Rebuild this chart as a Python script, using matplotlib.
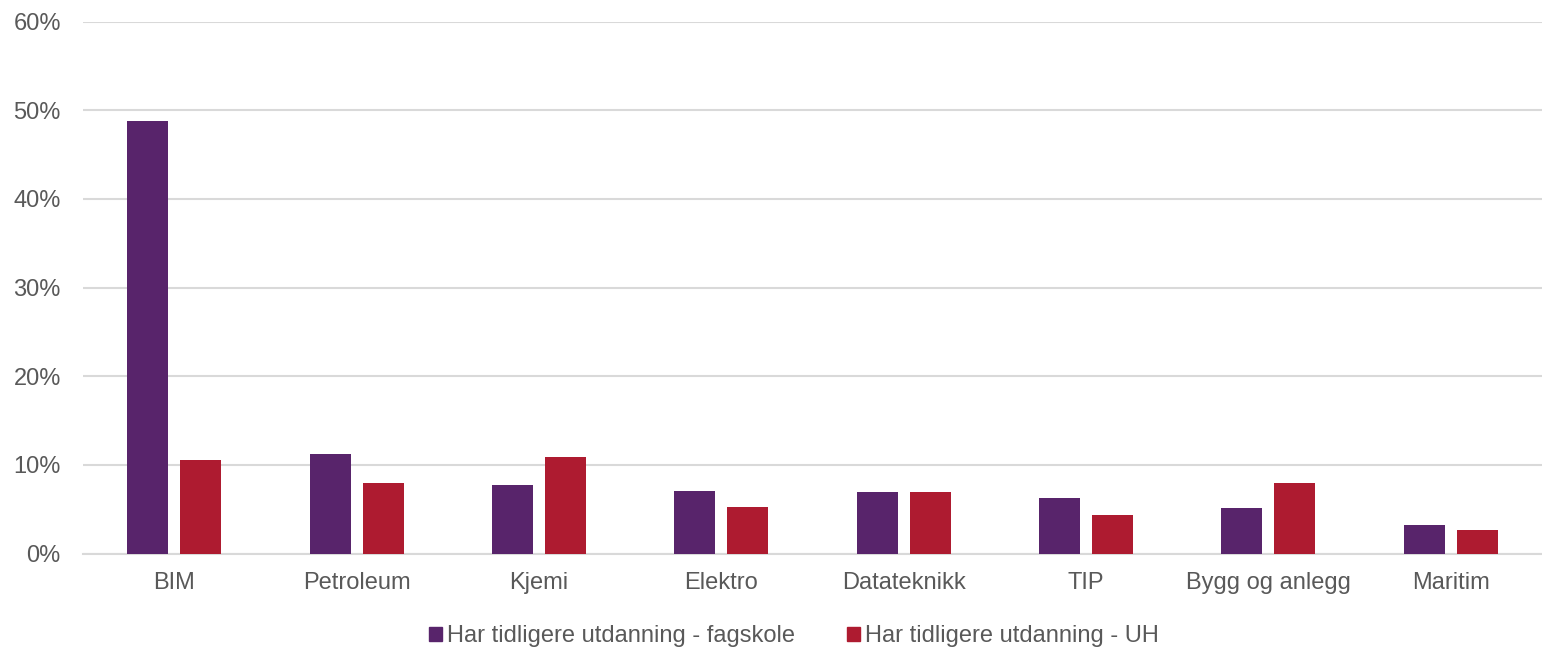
import matplotlib.pyplot as plt
import numpy as np
from matplotlib.ticker import PercentFormatter
from matplotlib.patches import Patch

plt.rcParams['font.family'] = ['Liberation Sans', 'DejaVu Sans']

categories = ['BIM', 'Petroleum', 'Kjemi', 'Elektro', 'Datateknikk', 'TIP',
              'Bygg og anlegg', 'Maritim']
fagskole = [48.8, 11.25, 7.7, 7.0, 6.9, 6.3, 5.1, 3.25]
uh = [10.6, 8.0, 10.9, 5.3, 6.9, 4.3, 7.9, 2.6]
series_names = ['Har tidligere utdanning - fagskole', 'Har tidligere utdanning - UH']

PURPLE = '#58246b'
RED = '#ae1b30'
TEXT = '#595959'
GRID = '#d9d9d9'

fig = plt.figure(figsize=(15.42, 6.47), dpi=100)
ax = fig.add_axes([83 / 1542, 1 - 553.5 / 647, 1 - 83 / 1542, (553.5 - 21.5) / 647])

x = np.arange(len(categories))
w = 0.225
gap = 0.066
ax.bar(x - (w + gap) / 2, fagskole, width=w, color=PURPLE, zorder=3)
ax.bar(x + (w + gap) / 2, uh, width=w, color=RED, zorder=3)

ax.set_xlim(-0.5, len(categories) - 0.5)
ax.set_ylim(0, 60)
ax.set_yticks(np.arange(0, 61, 10))
ax.yaxis.set_major_formatter(PercentFormatter(decimals=0))
ax.set_xticks(x)
ax.set_xticklabels(categories)
ax.tick_params(axis='both', length=0, colors=TEXT, labelsize=17)
ax.tick_params(axis='x', pad=13)
ax.tick_params(axis='y', pad=16)
ax.grid(axis='y', color=GRID, linewidth=1.5, zorder=0)
for s in ['top', 'right', 'left']:
    ax.spines[s].set_visible(False)
ax.spines['bottom'].set_color(GRID)
ax.spines['bottom'].set_linewidth(1.5)

handles = [Patch(color=PURPLE), Patch(color=RED)]
fig.legend(handles, series_names, loc='center', bbox_to_anchor=(794 / 1542, 1 - 636 / 647),
           ncol=2, frameon=False, fontsize=17, labelcolor=TEXT,
           handlelength=0.55, handleheight=0.55, handletextpad=0.2, columnspacing=2.2)

fig.savefig('out.png', dpi=100)
